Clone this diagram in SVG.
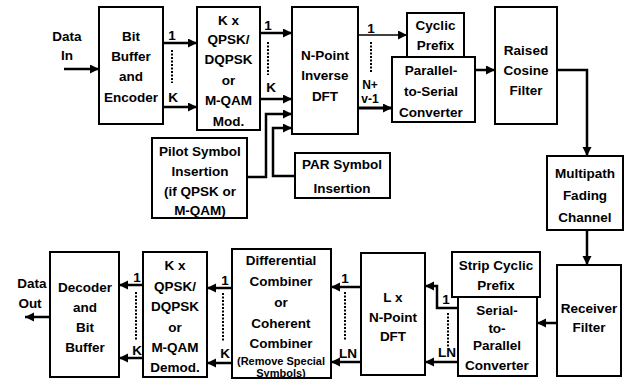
<svg xmlns="http://www.w3.org/2000/svg" width="625" height="379" viewBox="0 0 625 379">
<style>
  .box { fill: #fff; stroke: #000; stroke-width: 2; }
  text { font-family: "Liberation Sans", Arial, sans-serif; font-weight: bold; font-size: 13.5px; text-anchor: middle; fill: #000; }
  .sm { font-size: 11px; }
  .lbl { font-size: 12px; }
  .w { fill: none; stroke: #000; stroke-width: 2.5; }
  .thin { fill: none; stroke: #000; stroke-width: 1.5; }
  .dot { fill: none; stroke: #000; stroke-width: 2; stroke-dasharray: 2 1.5; }
</style>
<defs>
  <marker id="ah" markerUnits="userSpaceOnUse" markerWidth="10" markerHeight="10" refX="9" refY="4.5" orient="auto">
    <path d="M0,0 L9,4.5 L0,9 z" fill="#000"/>
  </marker>
</defs>
<rect width="625" height="379" fill="#fff"/>

<g id="connectors">
  <line class="w" x1="64" y1="69" x2="99" y2="69" marker-end="url(#ah)"/>
  <line class="w" x1="163" y1="43" x2="197" y2="43" marker-end="url(#ah)"/>
  <line class="w" x1="163" y1="107" x2="197" y2="107" marker-end="url(#ah)"/>
  <line class="dot" x1="172" y1="50" x2="172" y2="83"/>
  <line class="w" x1="260" y1="33" x2="292" y2="33" marker-end="url(#ah)"/>
  <line class="w" x1="260" y1="99" x2="292" y2="99" marker-end="url(#ah)"/>
  <line class="dot" x1="268" y1="42" x2="268" y2="75"/>
  <polyline class="w" points="247,177 266,177 266,114 292,114" marker-end="url(#ah)"/>
  <polyline class="w" points="295,176 273,176 273,128 292,128" marker-end="url(#ah)"/>
  <line class="thin" x1="358" y1="35" x2="407" y2="35" marker-end="url(#ah)"/>
  <line class="dot" x1="371" y1="42" x2="371" y2="72"/>
  <line class="w" style="stroke-width:3" x1="358" y1="108" x2="392" y2="108" marker-end="url(#ah)"/>
  <line class="w" x1="475" y1="70" x2="495" y2="70" marker-end="url(#ah)"/>
  <polyline class="w" points="557,70 587,70 587,156" marker-end="url(#ah)"/>
  <line class="w" x1="587" y1="230" x2="587" y2="265" marker-end="url(#ah)"/>
  <line class="w" x1="557" y1="323" x2="537" y2="323" marker-end="url(#ah)"/>
  <polyline class="w" points="458,308 437,308 437,286 425,286" marker-end="url(#ah)"/>
  <line class="w" x1="458" y1="362" x2="425" y2="362" marker-end="url(#ah)"/>
  <line class="dot" x1="448" y1="313" x2="448" y2="347"/>
  <line class="w" x1="361" y1="287" x2="331" y2="287" marker-end="url(#ah)"/>
  <line class="w" x1="361" y1="362" x2="331" y2="362" marker-end="url(#ah)"/>
  <line class="dot" x1="345" y1="292" x2="345" y2="340"/>
  <line class="w" x1="232" y1="288" x2="207" y2="288" marker-end="url(#ah)"/>
  <line class="w" x1="232" y1="363" x2="207" y2="363" marker-end="url(#ah)"/>
  <line class="dot" x1="223" y1="293" x2="223" y2="342"/>
  <line class="w" x1="143" y1="285" x2="119" y2="285" marker-end="url(#ah)"/>
  <line class="w" x1="143" y1="358" x2="119" y2="358" marker-end="url(#ah)"/>
  <line class="dot" x1="136" y1="292" x2="136" y2="340"/>
  <line class="w" x1="50" y1="317" x2="25" y2="317" marker-end="url(#ah)"/>

  <text x="172" y="40">1</text>
  <text x="173" y="102">K</text>
  <text x="268" y="30">1</text>
  <text x="271" y="92">K</text>
  <text x="371" y="33">1</text>
  <text class="lbl" x="370" y="89">N+</text>
  <text class="lbl" x="370" y="103">v-1</text>
  <text x="446" y="304">1</text>
  <text x="447" y="357">LN</text>
  <text x="345" y="283">1</text>
  <text x="348" y="358">LN</text>
  <text x="225" y="285">1</text>
  <text x="225" y="358">K</text>
  <text x="137" y="282">1</text>
  <text x="137" y="355">K</text>
</g>

<g id="data-in">
  <text x="67" y="41">Data</text>
  <text x="67" y="60">In</text>
</g>
<g id="data-out">
  <text x="32" y="288">Data</text>
  <text x="30" y="308">Out</text>
</g>

<g id="bit-buffer">
  <rect class="box" x="99" y="7" width="64" height="117"/>
  <text x="131" y="41">Bit</text>
  <text x="131" y="61">Buffer</text>
  <text x="131" y="81">and</text>
  <text x="131" y="102">Encoder</text>
</g>
<g id="mod">
  <rect class="box" x="197" y="7" width="63" height="123"/>
  <text x="228.5" y="25">K x</text>
  <text x="228.5" y="44">QPSK/</text>
  <text x="228.5" y="64">DQPSK</text>
  <text x="228.5" y="85">or</text>
  <text x="228.5" y="105">M-QAM</text>
  <text x="228.5" y="126">Mod.</text>
</g>
<g id="idft">
  <rect class="box" x="292" y="7" width="66" height="127"/>
  <text x="325" y="60">N-Point</text>
  <text x="325" y="80">Inverse</text>
  <text x="325" y="101">DFT</text>
</g>
<g id="cyclic-prefix">
  <rect class="box" x="407" y="13" width="57" height="44"/>
  <text x="435.5" y="30">Cyclic</text>
  <text x="435.5" y="50">Prefix</text>
</g>
<g id="p2s">
  <rect class="box" x="392" y="57" width="83" height="65"/>
  <text x="431" y="75">Parallel-</text>
  <text x="431" y="96">to-Serial</text>
  <text x="431" y="117">Converter</text>
</g>
<g id="raised-cosine">
  <rect class="box" x="495" y="7" width="62" height="117"/>
  <text x="526" y="55">Raised</text>
  <text x="526" y="75">Cosine</text>
  <text x="526" y="95">Filter</text>
</g>
<g id="multipath">
  <rect class="box" x="547" y="156" width="76" height="74"/>
  <text x="585" y="178">Multipath</text>
  <text x="585" y="200">Fading</text>
  <text x="585" y="222">Channel</text>
</g>
<g id="receiver-filter">
  <rect class="box" x="557" y="265" width="64" height="111"/>
  <text x="589" y="313">Receiver</text>
  <text x="589" y="332">Filter</text>
</g>
<g id="strip-cp">
  <rect class="box" x="452" y="252" width="88" height="45"/>
  <text x="496" y="270">Strip Cyclic</text>
  <text x="496" y="290">Prefix</text>
</g>
<g id="s2p">
  <rect class="box" x="458" y="297" width="79" height="79"/>
  <text x="497" y="315">Serial-</text>
  <text x="497" y="333">to-</text>
  <text x="497" y="350">Parallel</text>
  <text x="497" y="370">Converter</text>
</g>
<g id="dft">
  <rect class="box" x="361" y="253" width="64" height="122"/>
  <text x="393" y="302">L x</text>
  <text x="393" y="322">N-Point</text>
  <text x="393" y="341">DFT</text>
</g>
<g id="combiner">
  <rect class="box" x="232" y="249" width="99" height="129"/>
  <text x="281" y="265">Differential</text>
  <text x="281" y="286">Combiner</text>
  <text x="281" y="307">or</text>
  <text x="281" y="328">Coherent</text>
  <text x="281" y="348">Combiner</text>
  <text class="sm" x="281" y="365">(Remove Special</text>
  <text class="sm" x="281" y="377">Symbols)</text>
</g>
<g id="demod">
  <rect class="box" x="143" y="252" width="64" height="125"/>
  <text x="175" y="270">K x</text>
  <text x="175" y="291">QPSK/</text>
  <text x="175" y="311">DQPSK</text>
  <text x="175" y="332">or</text>
  <text x="175" y="352">M-QAM</text>
  <text x="175" y="372">Demod.</text>
</g>
<g id="decoder">
  <rect class="box" x="50" y="252" width="69" height="125"/>
  <text x="85" y="292">Decoder</text>
  <text x="85" y="312">and</text>
  <text x="85" y="332">Bit</text>
  <text x="85" y="352">Buffer</text>
</g>
<g id="pilot">
  <rect class="box" x="152" y="138" width="95" height="80"/>
  <text x="200" y="156">Pilot Symbol</text>
  <text x="200" y="176">Insertion</text>
  <text x="200" y="196">(if QPSK or</text>
  <text x="200" y="215">M-QAM)</text>
</g>
<g id="par">
  <rect class="box" x="295" y="153" width="95" height="45"/>
  <text x="342" y="169">PAR Symbol</text>
  <text x="342" y="193">Insertion</text>
</g>
</svg>
